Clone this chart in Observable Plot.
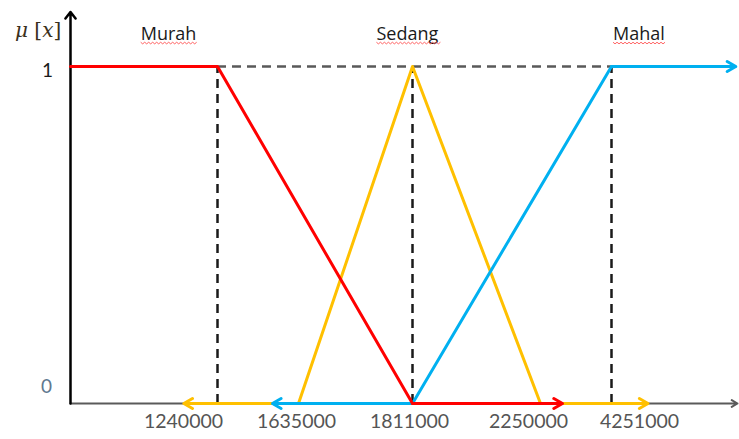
<!DOCTYPE html>
<html>
<head>
<meta charset="utf-8">
<script src="https://cdn.jsdelivr.net/npm/d3@7"></script>
<script src="https://cdn.jsdelivr.net/npm/@observablehq/plot@0.6"></script>
<style>
  html, body { margin: 0; padding: 0; background: #ffffff; }
  #chart { width: 739px; height: 439px; }
</style>
</head>
<body>
<div id="chart"></div>
<script>
// ---- data ----
const xBreaks = [1000000, 1240000, 1635000, 1811000, 2250000, 4251000, 5000000];
const tickLabels = [1240000, 1635000, 1811000, 2250000, 4251000];
const tickShift = [-34, -2, -3, -12, 28];
const categories = ["Murah", "Sedang", "Mahal"];
const categoryLabelX = [1160000, 1803000, 4414000];
const murahX = [1000000, 1240000, 1811000];
const murahY = [1, 1, 0];
const sedangX = [1635000, 1811000, 2250000];
const sedangY = [0, 1, 0];
const mahalX = [1811000, 4251000];
const mahalY = [0, 1];
// arrows that continue each set
const arrowFrom = [1635000, 2250000, 1811000, 4251000, 1811000];
const arrowTo = [1185000, 4468000, 1508000, 4990000, 2870000];
const arrowY = [0, 0, 0, 1, 0];
const arrowSet = ["Sedang", "Sedang", "Mahal", "Mahal", "Murah"];
const peaks = [1240000, 1811000, 4251000];

const colors = {Murah: "#ff0000", Sedang: "#ffc000", Mahal: "#00b0f0"};
const pts = (xs, ys) => xs.map((x, i) => ({x, y: ys[i]}));
const arrows = arrowFrom.map((x1, i) => ({x1, x2: arrowTo[i], y: arrowY[i], set: arrowSet[i]}));
const arrowsOf = s => arrows.filter(a => a.set === s);

const numFont = "Lato, 'Open Sans', sans-serif";
const labelFont = "'Open Sans', Lato, sans-serif";

function arrowMark(data, color) {
  return Plot.arrow(data, {x1: "x1", x2: "x2", y1: "y", y2: "y", stroke: color,
    strokeWidth: 3, headLength: 5, headAngle: 60});
}

const chart = Plot.plot({
  width: 739,
  height: 439,
  margin: 0,
  style: {background: "#ffffff", fontFamily: numFont},
  x: {type: "linear", domain: xBreaks, range: [70, 217, 298, 412, 540, 611, 737], axis: null},
  y: {domain: [0, 1], range: [403, 66], axis: null},
  marks: [
    // x axis
    Plot.arrow([{x1: xBreaks[0], x2: xBreaks[xBreaks.length - 1]}],
      {x1: "x1", x2: "x2", y1: () => 0, y2: () => 0, stroke: "#5a5a5a", strokeWidth: 2, headLength: 5, headAngle: 60}),
    // y axis
    Plot.arrow([{y2: 1.162}],
      {x1: () => xBreaks[0], x2: () => xBreaks[0], y1: () => 0, y2: "y2", stroke: "#000000", strokeWidth: 2.5, headLength: 5, headAngle: 75}),
    // dashed guides
    Plot.ruleY([1], {x1: peaks[0], x2: peaks[2], stroke: "#595959", strokeWidth: 2.5, strokeDasharray: "9,6"}),
    Plot.ruleX(peaks, {y1: 0, y2: 1, stroke: "#1a1a1a", strokeWidth: 2.5, strokeDasharray: "9,6"}),
    // Sedang
    Plot.line(pts(sedangX, sedangY), {x: "x", y: "y", stroke: colors.Sedang, strokeWidth: 3}),
    arrowMark(arrowsOf("Sedang"), colors.Sedang),
    // Mahal
    Plot.line(pts(mahalX, mahalY), {x: "x", y: "y", stroke: colors.Mahal, strokeWidth: 3}),
    arrowMark(arrowsOf("Mahal"), colors.Mahal),
    // Murah
    Plot.line(pts(murahX, murahY), {x: "x", y: "y", stroke: colors.Murah, strokeWidth: 3}),
    arrowMark(arrowsOf("Murah"), colors.Murah),
    // category labels
    Plot.text(categories, {x: (d, i) => categoryLabelX[i], y: () => 1.095, text: d => d,
      fontSize: 18, fill: "#1a1a1a", textAnchor: "middle", fontFamily: labelFont, className: "catlabel"}),
    // y labels
    Plot.text(["1"], {y: () => 1, frameAnchor: "left", dx: 47, dy: 4, fontSize: 19, fill: "#1a1a1a", textAnchor: "middle"}),
    Plot.text(["0"], {y: () => 0, frameAnchor: "left", dx: 46, dy: -17, fontSize: 19, fill: "#5f7890", textAnchor: "middle"}),
    // tick labels
    ...tickLabels.map((t, i) => Plot.text([t], {x: d => d, y: () => 0, dy: 18, dx: tickShift[i],
      text: d => String(d), fontSize: 19.5, fill: "#555555", textAnchor: "middle"}))
  ]
});

document.getElementById("chart").appendChild(chart);

// axis title mu [x]
const svg = d3.select(chart);
const title = svg.append("text")
  .attr("x", 15).attr("y", 37)
  .attr("text-anchor", "start")
  .attr("font-family", "'DejaVu Serif', 'Liberation Serif', serif")
  .attr("font-size", 20).attr("fill", "#3a3020");
title.append("tspan").attr("font-style", "italic").text("μ");
title.append("tspan").text(" [");
title.append("tspan").attr("font-style", "italic").text("x");
title.append("tspan").text("]");

// spell-check style wavy underline beneath category labels
const svgRect = chart.getBoundingClientRect();
svg.selectAll("text").filter(function () { return categories.includes(this.textContent); }).each(function () {
  const r = this.getBoundingClientRect();
  const x0 = r.left - svgRect.left, w = r.width;
  const y0 = r.bottom - svgRect.top - 3;
  let d = `M${x0},${y0}`;
  for (let x = x0, k = 0; x < x0 + w; x += 2, k++) {
    d += `L${x + 2},${y0 + (k % 2 === 0 ? 1.6 : 0)}`;
  }
  svg.append("path").attr("d", d).attr("fill", "none").attr("stroke", "#ff5050").attr("stroke-width", 0.9);
});
</script>
</body>
</html>
